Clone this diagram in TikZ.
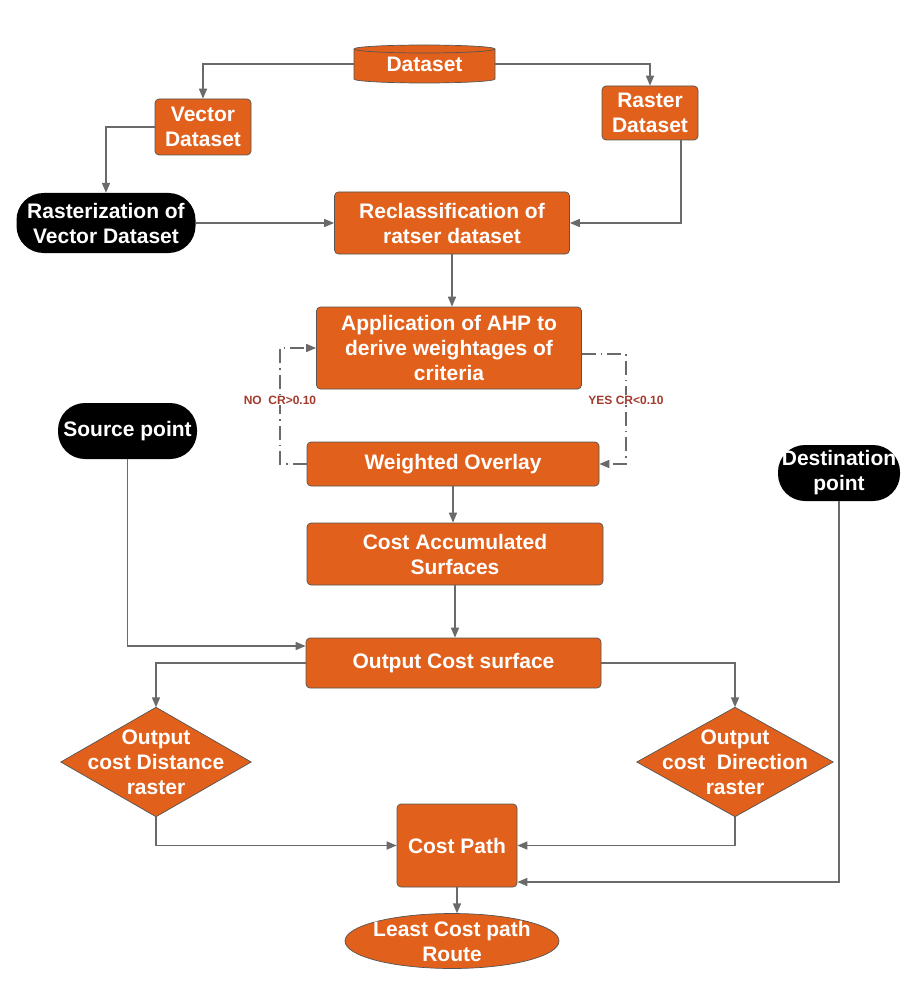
\documentclass[tikz,border=0pt]{standalone}
\usepackage{fontspec}
\setmainfont{Liberation Sans}
\usetikzlibrary{arrows.meta,backgrounds}
\definecolor{boxorange}{HTML}{E1601B}
\definecolor{linegray}{HTML}{6A6A6A}
\definecolor{labelred}{HTML}{A33A2E}
\definecolor{edgegray}{HTML}{555555}
\begin{document}
\begin{tikzpicture}[x=1pt,y=-1pt,
  txt/.style={text=white, font=\bfseries\fontsize{21}{25}\selectfont, align=center, inner sep=0pt},
  obox/.style={draw=edgegray, line width=0.7pt, fill=boxorange, rounded corners=4pt},
  ofill/.style={draw=edgegray, line width=0.7pt, fill=boxorange},
  term/.style={fill=black, rounded corners=27pt},
  conn/.style={draw=linegray, line width=1.6pt, -{Triangle[length=10pt,width=8pt]}},
  loopline/.style={conn, dash pattern=on 14pt off 5pt on 1.5pt off 5pt},
  lbl/.style={fill=white, text=labelred, font=\bfseries\fontsize{12}{14}\selectfont, inner sep=1pt}]
\useasboundingbox (0,0) rectangle (914,995);

% nodes
\node[txt, minimum width=141pt, minimum height=38pt] (ds) at (424.5,64) {Dataset};
\node[txt, obox, minimum width=96pt, minimum height=56pt] (vec) at (203,127) {Vector\\Dataset};
\node[txt, obox, minimum width=96pt, minimum height=54pt] (ras) at (650,113) {Raster\\Dataset};
\node[txt, term, minimum width=179pt, minimum height=60pt] (rvd) at (106,223) {Rasterization of\\Vector Dataset};
\node[txt, obox, minimum width=235pt, minimum height=62pt] (rec) at (452,223) {Reclassification of\\ratser dataset};
\node[txt, obox, minimum width=265pt, minimum height=82pt] (ahp) at (449,348) {Application of AHP to\\derive weightages of\\criteria};
\node[txt, obox, minimum width=292pt, minimum height=44pt] (wo) at (453,464) {Weighted Overlay};
\node[txt, obox, minimum width=296pt, minimum height=62pt] (cas) at (455,554) {Cost Accumulated\\Surfaces};
\node[txt, term, minimum width=139pt, minimum height=56pt] (src) at (127.5,431) {Source point};
\node[txt, term, minimum width=122pt, minimum height=56pt] (dst) at (839,473) {Destination\\point};
\node[txt, obox, minimum width=295pt, minimum height=50pt] (ocs) at (453.5,663) {Output Cost surface};
\node[txt, minimum width=190pt, minimum height=109pt] (dl) at (156,762) {Output\\cost Distance\\raster};
\node[txt, minimum width=196pt, minimum height=109pt] (dr) at (735,762) {Output\\cost\ \ Direction\\raster};
\node[txt, obox, minimum width=120pt, minimum height=83pt] (cp) at (457,845.5) {Cost Path};
\node[txt, minimum width=214pt, minimum height=55pt] (lc) at (452,941) {Least Cost path\\Route};

% backgrounds for special shapes
\begin{scope}[on background layer]
  \filldraw[ofill] (354,49) -- (354,79) arc[start angle=180,end angle=0,x radius=70.5,y radius=4]
     -- (495,49) arc[start angle=0,end angle=-180,x radius=70.5,y radius=4] -- cycle;
  \draw[draw=edgegray, line width=0.7pt] (354,49) arc[start angle=180,end angle=0,x radius=70.5,y radius=4];
  \filldraw[ofill] (dl.north) -- (dl.east) -- (dl.south) -- (dl.west) -- cycle;
  \filldraw[ofill] (dr.north) -- (dr.east) -- (dr.south) -- (dr.west) -- cycle;
  \filldraw[ofill] (lc.center) ellipse[x radius=107, y radius=27.5];
\end{scope}

% helper coordinates
\coordinate (rasb) at (681,140);
\coordinate (nlx) at (280,400);
\coordinate (nrx) at (626,400);
\path (ahp.east) ++(0,6) coordinate (ahpr);
\path (ocs.west) ++(0,-17) coordinate (ocsl);
\path (cp.east) ++(0,36.5) coordinate (cpr);

% connectors
\draw[conn] (ds.west) -| (vec.north);
\draw[conn] (ds.east) -| (ras.north);
\draw[conn] (vec.west) -| (rvd.north);
\draw[conn] (rvd.east) -- (rec.west);
\draw[conn] (rasb) |- (rec.east);
\draw[conn] (rec.south) -- (rec.south |- ahp.north);
\draw[loopline] (wo.west) -| (nlx) |- (ahp.west);
\draw[loopline] (ahpr) -| (nrx) |- (wo.east);
\draw[conn] (wo.south) -- (wo.south |- cas.north);
\draw[conn] (cas.south) -- (cas.south |- ocs.north);
\draw[conn] (src.south) |- (ocsl);
\draw[conn] (ocs.west) -| (dl.north);
\draw[conn] (ocs.east) -| (dr.north);
\draw[conn] (dl.south) |- (cp.west);
\draw[conn] (dr.south) |- (cp.east);
\draw[conn] (dst.south) |- (cpr);
\draw[conn] (cp.south) -- (cp.south |- lc.north);

% labels
\node[lbl] (no) at (nlx) {NO\ \ CR>0.10};
\node[lbl] (yes) at (nrx) {YES CR<0.10};
\end{tikzpicture}
\end{document}
